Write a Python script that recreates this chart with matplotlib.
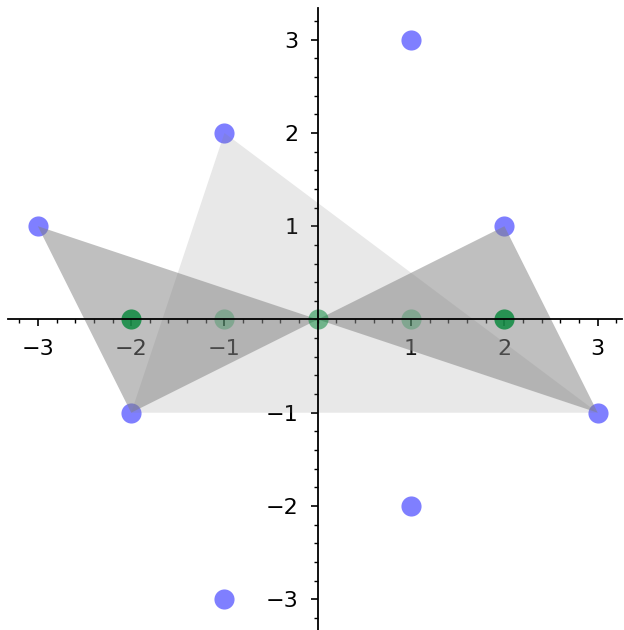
import numpy as np
import matplotlib.pyplot as plt
from matplotlib.patches import Polygon
from matplotlib.ticker import MultipleLocator

# blue lattice points
blue_x = [-3, -1, 1, 2, 3, 1, -1, -2]
blue_y = [1, 2, 3, 1, -1, -2, -3, -1]

# green points on the x axis
green_strong_x = [-2, 2]
green_mid_x = [0]
green_faint_x = [-1, 1]

# triangles
light_tri = [(-1, 2), (-2, -1), (3, -1)]
dark_tris = [
    [(-3, 1), (0, 0), (-2, -1)],
    [(0, 0), (2, 1), (3, -1)],
]

fig = plt.figure(figsize=(6.24, 6.30), dpi=100)
ax = fig.add_axes([8 / 624, 0, 614 / 624, 622 / 630])

ax.scatter(blue_x, blue_y, s=210, color='blue', alpha=0.5, linewidths=0, zorder=1)

ax.add_patch(Polygon(light_tri, closed=True, facecolor='gray', edgecolor='none',
                     alpha=0.18, zorder=2))
for tri in dark_tris:
    ax.add_patch(Polygon(tri, closed=True, facecolor='gray', edgecolor='none',
                         alpha=0.5, zorder=2))

ax.scatter(green_strong_x, [0] * len(green_strong_x), s=210, color='#0e8a40',
           alpha=0.85, linewidths=0, zorder=3)
ax.scatter(green_mid_x, [0] * len(green_mid_x), s=210, color='#0e8a40',
           alpha=0.55, linewidths=0, zorder=3)
ax.scatter(green_faint_x, [0] * len(green_faint_x), s=210, color='#0e8a40',
           alpha=0.3, linewidths=0, zorder=3)

ax.set_xlim(-3.32, 3.26)
ax.set_ylim(-3.33, 3.34)

ax.spines['left'].set_position(('data', 0))
ax.spines['bottom'].set_position(('data', 0))
ax.spines['top'].set_visible(False)
ax.spines['right'].set_visible(False)
for sp in ('left', 'bottom'):
    ax.spines[sp].set_linewidth(1.3)
    ax.spines[sp].set_zorder(4)

ax.xaxis.set_major_locator(MultipleLocator(1))
ax.yaxis.set_major_locator(MultipleLocator(1))
ax.xaxis.set_minor_locator(MultipleLocator(0.2))
ax.yaxis.set_minor_locator(MultipleLocator(0.2))
ax.tick_params(which='major', length=5, width=1.2, labelsize=16, pad=9)
ax.tick_params(which='minor', length=3, width=1.0)

xt = [t for t in range(-3, 4) if t != 0]
ax.set_xticks(xt)
ax.set_yticks(xt)
ax.set_xticklabels(['\u2212%d' % -t if t < 0 else str(t) for t in xt])
ax.set_yticklabels(['\u2212%d' % -t if t < 0 else str(t) for t in xt])

fig.savefig('out.png', dpi=100)
